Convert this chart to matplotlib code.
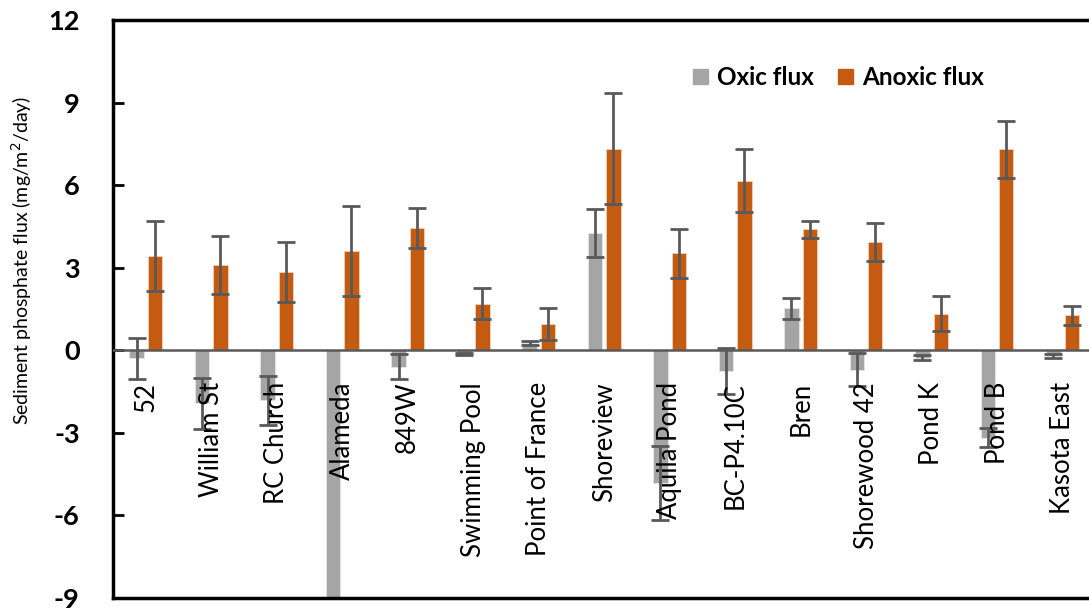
import numpy as np
import matplotlib.pyplot as plt
from matplotlib.patches import Patch

# Site names and fluxes (mg/m2/day) #
sites = ['52', 'William St', 'RC Church', 'Alameda', '849W', 'Swimming Pool',
         'Point of France', 'Shoreview', 'Aquila Pond', 'BC-P4.10C', 'Bren',
         'Shorewood 42', 'Pond K', 'Pond B', 'Kasota East']
oxic     = [-0.29, -1.92, -1.82, -9.8, -0.60, -0.13, 0.27, 4.27, -4.82, -0.76,
            1.52, -0.70, -0.27, -3.18, -0.20]
oxic_err = [0.75, 0.93, 0.90, 0.0, 0.45, 0.03, 0.06, 0.88, 1.35, 0.83,
            0.38, 0.60, 0.10, 0.35, 0.08]
anoxic     = [3.42, 3.09, 2.85, 3.61, 4.45, 1.70, 0.95, 7.33, 3.52, 6.16,
              4.39, 3.94, 1.33, 7.30, 1.27]
anoxic_err = [1.27, 1.05, 1.10, 1.63, 0.72, 0.57, 0.57, 2.03, 0.90, 1.14,
              0.31, 0.69, 0.64, 1.03, 0.34]

grey = '#A5A5A5'
orange = '#C55A11'
errc = '#595959'

plt.rcParams['font.family'] = ['Lato', 'DejaVu Sans']
plt.rcParams['axes.unicode_minus'] = False

fig = plt.figure(figsize=(10.89, 6.08), dpi=100)
ax = fig.add_axes([0.1038, 0.0164, 0.902, 0.9507])

x = np.arange(len(sites))
off = 0.14
w = 0.22
ax.bar(x - off, oxic, w, color=grey, edgecolor='#E6E6E6', linewidth=0.6, zorder=2)
ax.bar(x + off, anoxic, w, color=orange, edgecolor='#F2D0BC', linewidth=0.6, zorder=2)
ax.errorbar(x - off, oxic, yerr=oxic_err, fmt='none', ecolor=errc,
            elinewidth=2, capsize=6.5, capthick=2, zorder=3)
ax.errorbar(x + off, anoxic, yerr=anoxic_err, fmt='none', ecolor=errc,
            elinewidth=2, capsize=6.5, capthick=2, zorder=3)

ax.axhline(0, color=errc, linewidth=1.8, zorder=4)

# Category labels hang just below the zero line #
for i, s in enumerate(sites):
    ax.text(i, -1.15, s, rotation=90, ha='center', va='top', fontsize=18.5)

ax.set_xlim(-0.5, len(sites) - 0.5)
ax.set_ylim(-9, 12)
ax.set_yticks(np.arange(-9, 13, 3))
ax.set_xticks([])
ax.tick_params(axis='y', direction='in', length=8, width=2, pad=24,
               labelsize=19.5)
for lab in ax.get_yticklabels():
    lab.set_fontweight('bold')
for sp in ['left', 'top', 'bottom']:
    ax.spines[sp].set_linewidth(2.5)
ax.spines['right'].set_visible(False)

fig.text(0.02, 1 - 260 / 608, 'Sediment phosphate flux (mg/m$^2$/day)',
         rotation=90, ha='center', va='center', fontsize=14)

handles = [Patch(color=grey, label='Oxic flux'), Patch(color=orange, label='Anoxic flux')]
fig.legend(handles=handles, loc='center left', bbox_to_anchor=(693 / 1089, 1 - 77.5 / 608),
           ncol=2, frameon=False, handlelength=0.62, handleheight=0.62,
           handletextpad=0.37, columnspacing=1.0, borderpad=0, borderaxespad=0,
           prop={'size': 17.5, 'weight': 'bold'})

fig.savefig('out.png', dpi=100)
